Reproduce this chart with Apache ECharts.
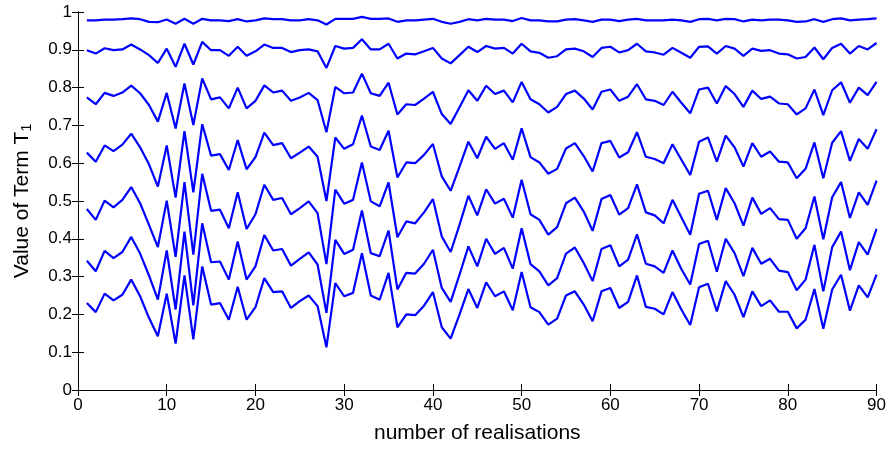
<!DOCTYPE html>
<html>
<head>
<meta charset="utf-8">
<script src="https://cdn.jsdelivr.net/npm/echarts@6/dist/echarts.min.js"></script>
<style>html,body{margin:0;padding:0;background:#fff}#c{width:889px;height:449px}</style>
</head>
<body>
<div id="c"></div>
<script>
var realisations = [1,2,3,4,5,6,7,8,9,10,11,12,13,14,15,16,17,18,19,20,21,22,23,24,25,26,27,28,29,30,31,32,33,34,35,36,37,38,39,40,41,42,43,44,45,46,47,48,49,50,51,52,53,54,55,56,57,58,59,60,61,62,63,64,65,66,67,68,69,70,71,72,73,74,75,76,77,78,79,80,81,82,83,84,85,86,87,88,89,90];

var curve1 = [0.978,0.978,0.980,0.980,0.981,0.983,0.981,0.974,0.973,
0.980,0.969,0.982,0.969,0.982,0.978,0.978,0.976,0.981,
0.975,0.978,0.983,0.981,0.981,0.978,0.978,0.981,0.978,
0.967,0.982,0.982,0.982,0.987,0.982,0.982,0.983,0.974,
0.978,0.978,0.980,0.982,0.974,0.969,0.974,0.981,0.978,
0.982,0.980,0.980,0.976,0.984,0.978,0.978,0.975,0.975,
0.980,0.981,0.978,0.974,0.980,0.980,0.976,0.980,0.982,
0.978,0.978,0.978,0.980,0.978,0.974,0.981,0.982,0.978,
0.982,0.981,0.975,0.980,0.978,0.980,0.980,0.978,0.974,
0.975,0.981,0.974,0.981,0.983,0.978,0.980,0.981,0.983];

var curve2 = [0.899,0.890,0.904,0.899,0.901,0.914,0.901,0.886,0.865,
0.903,0.855,0.916,0.861,0.921,0.899,0.899,0.884,0.908,
0.884,0.896,0.914,0.905,0.905,0.894,0.899,0.901,0.896,
0.852,0.910,0.903,0.905,0.928,0.901,0.901,0.916,0.877,
0.890,0.888,0.896,0.905,0.877,0.864,0.886,0.908,0.894,
0.910,0.903,0.905,0.890,0.916,0.896,0.892,0.879,0.883,
0.901,0.903,0.896,0.881,0.905,0.908,0.893,0.899,0.916,
0.896,0.893,0.887,0.905,0.892,0.879,0.908,0.909,0.890,
0.910,0.903,0.884,0.903,0.897,0.899,0.890,0.888,0.877,
0.881,0.906,0.875,0.905,0.916,0.890,0.910,0.901,0.918];

var curve3 = [0.774,0.756,0.786,0.778,0.787,0.805,0.785,0.754,0.710,
0.786,0.692,0.811,0.701,0.824,0.769,0.774,0.745,0.800,
0.745,0.765,0.806,0.787,0.792,0.765,0.774,0.786,0.767,
0.682,0.802,0.785,0.787,0.837,0.785,0.778,0.813,0.729,
0.756,0.754,0.771,0.789,0.730,0.704,0.748,0.793,0.765,
0.805,0.783,0.792,0.761,0.815,0.769,0.756,0.734,0.749,
0.783,0.792,0.771,0.742,0.789,0.795,0.765,0.776,0.809,
0.769,0.765,0.754,0.789,0.760,0.732,0.795,0.800,0.758,
0.804,0.783,0.749,0.792,0.770,0.776,0.758,0.756,0.729,
0.745,0.795,0.727,0.793,0.814,0.760,0.800,0.780,0.815];

var curve4 = [0.628,0.604,0.647,0.632,0.649,0.678,0.642,0.597,0.538,
0.647,0.509,0.685,0.523,0.703,0.620,0.624,0.582,0.661,
0.584,0.616,0.681,0.648,0.653,0.613,0.628,0.644,0.617,
0.500,0.668,0.638,0.650,0.726,0.644,0.635,0.686,0.562,
0.602,0.600,0.622,0.651,0.565,0.527,0.591,0.657,0.613,
0.670,0.638,0.653,0.609,0.692,0.616,0.602,0.572,0.585,
0.639,0.653,0.619,0.578,0.653,0.659,0.615,0.629,0.682,
0.617,0.611,0.600,0.650,0.609,0.569,0.657,0.668,0.604,
0.673,0.642,0.591,0.653,0.617,0.631,0.604,0.602,0.560,
0.585,0.655,0.560,0.654,0.685,0.606,0.664,0.638,0.690];

var curve5 = [0.479,0.450,0.501,0.483,0.503,0.537,0.494,0.437,0.378,
0.501,0.352,0.550,0.358,0.572,0.474,0.477,0.428,0.523,
0.426,0.465,0.543,0.503,0.508,0.465,0.481,0.499,0.468,
0.333,0.530,0.493,0.503,0.602,0.499,0.486,0.549,0.404,
0.446,0.441,0.470,0.505,0.406,0.365,0.437,0.514,0.462,
0.531,0.493,0.506,0.456,0.556,0.465,0.450,0.411,0.431,
0.494,0.509,0.472,0.421,0.505,0.516,0.464,0.481,0.544,
0.470,0.462,0.441,0.503,0.457,0.411,0.519,0.527,0.450,
0.534,0.494,0.435,0.509,0.466,0.481,0.452,0.450,0.400,
0.428,0.512,0.399,0.510,0.550,0.455,0.523,0.490,0.554];

var curve6 = [0.342,0.314,0.368,0.349,0.365,0.405,0.361,0.303,0.239,
0.369,0.213,0.419,0.224,0.441,0.338,0.340,0.292,0.393,
0.292,0.327,0.410,0.369,0.373,0.329,0.347,0.364,0.332,
0.204,0.397,0.360,0.371,0.475,0.362,0.354,0.422,0.266,
0.310,0.308,0.334,0.371,0.270,0.233,0.305,0.380,0.327,
0.400,0.360,0.376,0.321,0.428,0.333,0.314,0.277,0.296,
0.361,0.377,0.336,0.288,0.373,0.383,0.327,0.345,0.412,
0.334,0.327,0.310,0.369,0.320,0.279,0.386,0.395,0.313,
0.400,0.362,0.301,0.376,0.334,0.347,0.316,0.312,0.264,
0.292,0.384,0.261,0.378,0.419,0.317,0.391,0.358,0.426];

var curve7 = [0.230,0.206,0.255,0.237,0.252,0.292,0.248,0.191,0.142,
0.255,0.123,0.303,0.134,0.327,0.226,0.230,0.186,0.273,
0.186,0.219,0.296,0.259,0.261,0.217,0.235,0.250,0.222,
0.113,0.283,0.248,0.257,0.362,0.250,0.239,0.310,0.166,
0.200,0.198,0.223,0.259,0.166,0.136,0.200,0.267,0.217,
0.285,0.248,0.261,0.211,0.312,0.219,0.206,0.173,0.189,
0.250,0.261,0.226,0.182,0.261,0.270,0.217,0.233,0.303,
0.220,0.215,0.200,0.259,0.213,0.172,0.272,0.281,0.208,
0.288,0.252,0.193,0.261,0.222,0.237,0.207,0.207,0.163,
0.186,0.267,0.162,0.266,0.305,0.210,0.277,0.245,0.305];

var curves = [curve1, curve2, curve3, curve4, curve5, curve6, curve7];

var FONT = '"Liberation Sans", Arial, Helvetica, sans-serif';
var chart = echarts.init(document.getElementById('c'), null, {renderer: 'canvas'});

function pairs(ys) {
  return realisations.map(function (x, i) { return [x, ys[i]]; });
}

var axisLineStyle = {show: true, lineStyle: {color: '#000', width: 1}};
var tickStyle = {show: true, inside: true, length: 6, lineStyle: {color: '#000', width: 1}};

var option = {
  animation: false,
  backgroundColor: '#fff',
  grid: {left: 78, right: 12, top: 12, bottom: 57, containLabel: false},
  xAxis: [{
    type: 'value', min: 0, max: 90, interval: 10, position: 'bottom',
    name: 'number of realisations', nameLocation: 'middle', nameGap: 33,
    nameTextStyle: {fontFamily: FONT, fontSize: 21, color: '#000'},
    axisLine: axisLineStyle, axisTick: tickStyle,
    axisLabel: {fontFamily: FONT, fontSize: 17, color: '#000', margin: 7},
    splitLine: {show: false}
  }, {
    type: 'value', min: 0, max: 90, interval: 10, position: 'top',
    axisLine: axisLineStyle, axisTick: tickStyle,
    axisLabel: {show: false}, splitLine: {show: false}
  }],
  yAxis: [{
    type: 'value', min: 0, max: 1, interval: 0.1, position: 'left',
    name: '{a|Value of Term T}{b|1}', nameLocation: 'middle', nameGap: 44,
    nameTextStyle: {
      fontFamily: FONT, fontSize: 21, color: '#000',
      rich: {
        a: {fontFamily: FONT, fontSize: 21, color: '#000', lineHeight: 24},
        b: {fontFamily: FONT, fontSize: 14, color: '#000', verticalAlign: 'bottom', lineHeight: 12}
      }
    },
    axisLine: axisLineStyle, axisTick: tickStyle,
    axisLabel: {fontFamily: FONT, fontSize: 17, color: '#000', margin: 6},
    splitLine: {show: false}
  }, {
    type: 'value', min: 0, max: 1, interval: 0.1, position: 'right',
    axisLine: axisLineStyle, axisTick: tickStyle,
    axisLabel: {show: false}, splitLine: {show: false}
  }],
  series: curves.map(function (c) {
    return {
      type: 'line', xAxisIndex: 0, yAxisIndex: 0,
      data: pairs(c), showSymbol: false, symbol: 'none',
      lineStyle: {color: '#0000ff', width: 2.2},
      emphasis: {disabled: true}
    };
  })
};
chart.setOption(option);
</script>
</body>
</html>
